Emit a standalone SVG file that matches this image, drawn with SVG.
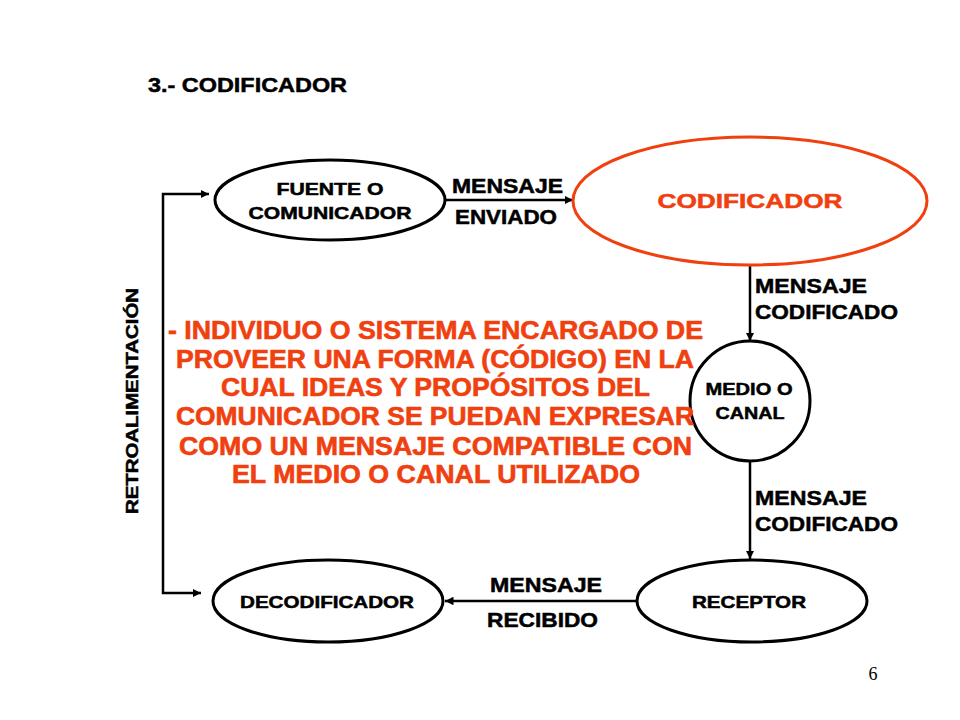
<svg xmlns="http://www.w3.org/2000/svg" width="960" height="720" viewBox="0 0 960 720">
<defs>
<marker id="ah" viewBox="0 0 10 10" refX="10" refY="5" markerWidth="3.4" markerHeight="3.4" orient="auto-start-reverse" markerUnits="strokeWidth">
<path d="M0,0 L10,5 L0,10 Z" fill="#000"/>
</marker>
<style>
.nd{fill:#fff;stroke:#000;stroke-width:3}
.red{fill:#fff;stroke:#F0400F;stroke-width:3}
.t{font-family:"Liberation Sans",Arial,sans-serif;font-weight:bold;fill:#000;stroke:#000;stroke-width:0.5;text-anchor:middle;font-size:17px}
.lb{font-family:"Liberation Sans",Arial,sans-serif;font-weight:bold;fill:#000;stroke:#000;stroke-width:0.5;font-size:20px}
.p{font-family:"Liberation Sans",Arial,sans-serif;font-weight:bold;fill:#F0400F;stroke:#F0400F;stroke-width:0.6;font-size:25px;text-anchor:middle}
.c{fill:none;stroke:#000;stroke-width:2.5}
</style>
</defs>
<rect width="960" height="720" fill="#fff"/>
<text x="148" y="92" class="lb" font-size="21" style="font-size:21px" textLength="199" lengthAdjust="spacingAndGlyphs">3.- CODIFICADOR</text>
<g id="connectors">
<line class="c" x1="445" y1="200" x2="573" y2="200" marker-end="url(#ah)"/>
<line class="c" x1="750" y1="265" x2="750" y2="341" marker-end="url(#ah)"/>
<line class="c" x1="750" y1="461" x2="750" y2="559" marker-end="url(#ah)"/>
<line class="c" x1="637" y1="601" x2="445" y2="601" marker-end="url(#ah)"/>
<path class="c" d="M209,194 L163,194 L163,593 L201,593" marker-start="url(#ah)" marker-end="url(#ah)"/>
</g>
<g id="labels">
<text x="452" y="193" class="lb" textLength="111" lengthAdjust="spacingAndGlyphs">MENSAJE</text>
<text x="455" y="224" class="lb" textLength="102" lengthAdjust="spacingAndGlyphs">ENVIADO</text>
<text x="755" y="293" class="lb" textLength="112" lengthAdjust="spacingAndGlyphs">MENSAJE</text>
<text x="755" y="319" class="lb" textLength="143" lengthAdjust="spacingAndGlyphs">CODIFICADO</text>
<text x="755" y="505" class="lb" textLength="112" lengthAdjust="spacingAndGlyphs">MENSAJE</text>
<text x="755" y="531" class="lb" textLength="143" lengthAdjust="spacingAndGlyphs">CODIFICADO</text>
<text x="490" y="592" class="lb" textLength="112" lengthAdjust="spacingAndGlyphs">MENSAJE</text>
<text x="487" y="627" class="lb" textLength="111" lengthAdjust="spacingAndGlyphs">RECIBIDO</text>
<text transform="translate(138,401) rotate(-90)" class="t" style="font-size:16px" textLength="226" lengthAdjust="spacingAndGlyphs">RETROALIMENTACIÓN</text>
</g>
<g id="fuente">
<ellipse class="nd" cx="330" cy="200" rx="115" ry="40"/>
<text x="330" y="195" class="t" textLength="107" lengthAdjust="spacingAndGlyphs">FUENTE O</text>
<text x="330" y="219" class="t" textLength="163" lengthAdjust="spacingAndGlyphs">COMUNICADOR</text>
</g>
<g id="codificador">
<ellipse class="red" cx="750" cy="201" rx="177" ry="64"/>
<text x="750" y="208" class="t" style="font-size:20px;fill:#F0400F;stroke:#F0400F" textLength="185" lengthAdjust="spacingAndGlyphs">CODIFICADOR</text>
</g>
<g id="medio">
<circle class="nd" cx="750" cy="401" r="60"/>
<text x="749" y="395" class="t" textLength="87" lengthAdjust="spacingAndGlyphs">MEDIO O</text>
<text x="750" y="419" class="t" textLength="69" lengthAdjust="spacingAndGlyphs">CANAL</text>
</g>
<g id="receptor">
<ellipse class="nd" cx="752" cy="601" rx="115" ry="41"/>
<text x="749" y="608" class="t" textLength="114" lengthAdjust="spacingAndGlyphs">RECEPTOR</text>
</g>
<g id="decodificador">
<ellipse class="nd" cx="328" cy="601" rx="115" ry="41"/>
<text x="327" y="608" class="t" textLength="174" lengthAdjust="spacingAndGlyphs">DECODIFICADOR</text>
</g>
<g id="descripcion">
<text x="435.5" y="339" class="p" textLength="535" lengthAdjust="spacingAndGlyphs">- INDIVIDUO O SISTEMA ENCARGADO DE</text>
<text x="435" y="368" class="p" textLength="518" lengthAdjust="spacingAndGlyphs">PROVEER UNA FORMA (CÓDIGO) EN LA</text>
<text x="435.5" y="396" class="p" textLength="429" lengthAdjust="spacingAndGlyphs">CUAL IDEAS Y PROPÓSITOS DEL</text>
<text x="435" y="425" class="p" textLength="518" lengthAdjust="spacingAndGlyphs">COMUNICADOR SE PUEDAN EXPRESAR</text>
<text x="435.5" y="455" class="p" textLength="513" lengthAdjust="spacingAndGlyphs">COMO UN MENSAJE COMPATIBLE CON</text>
<text x="436" y="483" class="p" textLength="408" lengthAdjust="spacingAndGlyphs">EL MEDIO O CANAL UTILIZADO</text>
</g>
<text x="873" y="680" font-family="Liberation Serif,serif" font-size="18" text-anchor="middle">6</text>
</svg>
